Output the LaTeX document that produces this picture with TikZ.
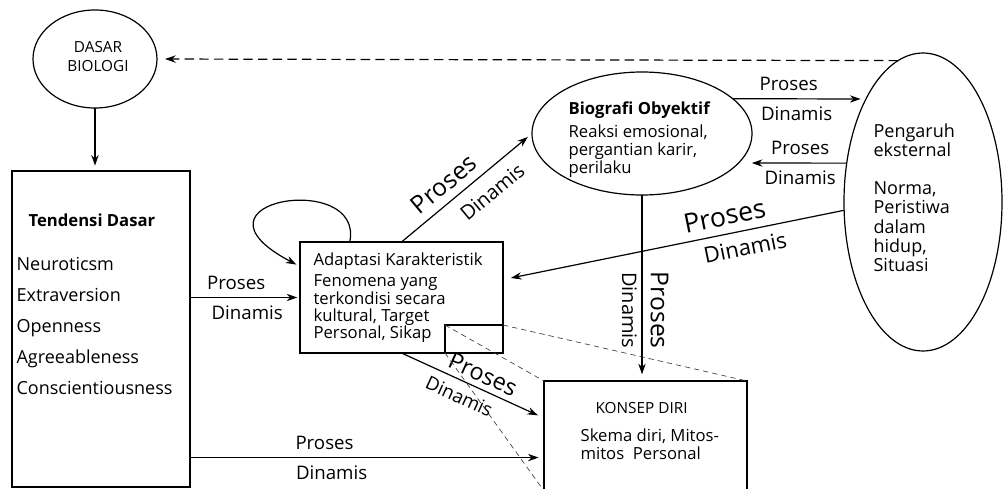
\documentclass[tikz,border=0pt]{standalone}
\usepackage{fontspec}
\setmainfont{Open Sans}
\usetikzlibrary{positioning}
\usetikzlibrary{calc}
\usetikzlibrary{shapes.geometric}
\usetikzlibrary{arrows.meta}

\begin{document}
\begin{tikzpicture}[>={Stealth[length=8pt,width=5.5pt]}, x=0.75pt, y=-0.75pt, line width=0.9pt]
  % basic styles.
  \tikzstyle{box}=[draw, rectangle, inner sep=0pt, outer sep=0pt]
  \tikzstyle{oval}=[draw, ellipse, inner sep=0pt, outer sep=0pt]
  \tikzstyle{txt}=[inner sep=0pt, anchor=base west, font=\fontsize{12.5}{15}\selectfont]
  \tikzstyle{lbl}=[inner sep=5.5pt, font=\fontsize{14}{16}\selectfont]
  \tikzstyle{bigp}=[inner sep=6pt, font=\fontsize{18.5}{20}\selectfont]
  \tikzstyle{bigd}=[inner sep=6pt, font=\fontsize{15}{17}\selectfont]
  \tikzstyle{zoomline}=[dash pattern=on 4pt off 3pt, line width=0.5pt, black!75]

  \clip (0,0) rectangle (1004,489);

  % The shapes
  \node[oval, minimum width=93pt, minimum height=73.5pt] (dasar) at (95,59) {};
  \node[box, minimum width=133.5pt, minimum height=237pt] (tend) at (101,329) {};
  \node[box, minimum width=152.25pt, minimum height=83.25pt] (adapt) at (401.5,297.5) {};
  \node[box, minimum width=43.5pt, minimum height=21pt, anchor=south east] (zoomr) at (adapt.south east) {};
  \node[oval, minimum width=165pt, minimum height=92.25pt] (bio) at (642,133.5) {};
  \node[oval, minimum width=118.5pt, minimum height=223.5pt] (peng) at (923,202) {};
  \node[box, minimum width=152.25pt, minimum height=82.5pt] (konsep) at (645.5,436) {};

  % Texts in the shapes
  \node[font=\fontsize{11.5}{14.25}\selectfont, align=center, inner sep=0pt] (dasart) at (98,57) {DASAR\\BIOLOGI};
  \node[txt, font=\bfseries\fontsize{12.5}{15}\selectfont] (tendt) at (28,226) {Tendensi Dasar};
  \foreach \trait [count=\i] in {Neuroticsm, Extraversion, Openness, Agreeableness, Conscientiousness}
    \node[txt, font=\fontsize{13.5}{16}\selectfont] (trait\i) at (16, 239+31*\i) {\trait};
  \node[txt] (adaptt) at (313,265) {Adaptasi Karakteristik};
  \foreach \row [count=\i] in {Fenomena yang, terkondisi secara, {kultural, Target}, {Personal, Sikap}}
    \node[txt] (adl\i) at (313, 269.5+17.3*\i) {\row};
  \node[txt, font=\bfseries\fontsize{12.5}{15}\selectfont] (biot) at (568,114) {Biografi Obyektif};
  \foreach \row [count=\i] in {{Reaksi emosional,}, {pergantian karir,}, perilaku}
    \node[txt] (bil\i) at (568, 119+18*\i) {\row};
  \foreach \row/\k in {Pengaruh/0, eksternal/1, {Norma,}/3, Peristiwa/4, dalam/5, {hidup,}/6, Situasi/7}
    \node[txt, font=\fontsize{13.5}{16}\selectfont] (pel\k) at (873, 137+19.2*\k) {\row};
  \node[txt, font=\fontsize{11.5}{14}\selectfont] (konsept) at (595,413) {KONSEP DIRI};
  \node[txt] (kl1) at (580,441) {Skema diri, Mitos-};
  \node[txt] (kl2) at (580,459) {mitos\ \ Personal};

  % The connectors
  \draw[->, shorten >=4pt] (dasar.south) -- (dasar.south |- tend.north);
  \draw[->, shorten >=6pt, dash pattern=on 7pt off 4pt] (peng.100) -- (dasar.east);
  \draw[->, shorten >=3pt] (adapt.133) .. controls +(15,-72) and +(-125,-66) .. (adapt.163);
  \draw[->, shorten >=2pt] (adapt.west -| tend.east) -- (adapt.west)
    node[lbl, pos=0.42, above] {Proses} node[lbl, pos=0.52, below] {Dinamis};
  \draw[->, shorten >=4pt] (adapt.north) -- (bio.west)
    node[bigp, sloped, pos=0.41, above] {Proses} node[bigd, inner sep=8.5pt, sloped, pos=0.6, below] {Dinamis};
  \draw[->, shorten >=4pt] (bio.21) -- (peng.119)
    node[lbl, pos=0.42, above] {Proses} node[lbl, pos=0.48, below] {Dinamis};
  \draw[->, shorten >=10pt] (peng.153) -- (bio.-17)
    node[lbl, pos=0.43, above] {Proses} node[lbl, pos=0.43, below] {Dinamis};
  \draw[->, shorten >=6pt] (peng.186) -- (adapt.10)
    node[bigp, font=\fontsize{20}{22}\selectfont, sloped, pos=0.34, above] {Proses}
    node[bigd, font=\fontsize{16.5}{18}\selectfont, sloped, pos=0.30, below] {Dinamis};
  \draw[->, shorten >=5pt] (bio.south) -- (bio.south |- konsep.north)
    node[bigp, pos=0.62, rotate=-90, anchor=south] {Proses}
    node[bigd, inner sep=3.5pt, pos=0.62, rotate=-90, anchor=north] {Dinamis};
  \draw[->, shorten >=5pt] (adapt.south) -- (konsep.170)
    node[bigp, inner sep=4pt, font=\fontsize{17.5}{19}\selectfont, sloped, pos=0.53, above] {Proses}
    node[bigd, font=\fontsize{14}{16}\selectfont, sloped, pos=0.45, below] {Dinamis};
  \draw[->, shorten >=4pt] (tend.east |- konsep.192) -- (konsep.192)
    node[lbl, pos=0.38, above] {Proses} node[lbl, pos=0.40, below] {Dinamis};

  % zoom lines
  \draw[zoomline] (zoomr.north west) -- (konsep.north west);
  \draw[zoomline] (zoomr.north east) -- (konsep.north east);
  \draw[zoomline] (zoomr.south west) -- (konsep.south west);
\end{tikzpicture}
\end{document}
